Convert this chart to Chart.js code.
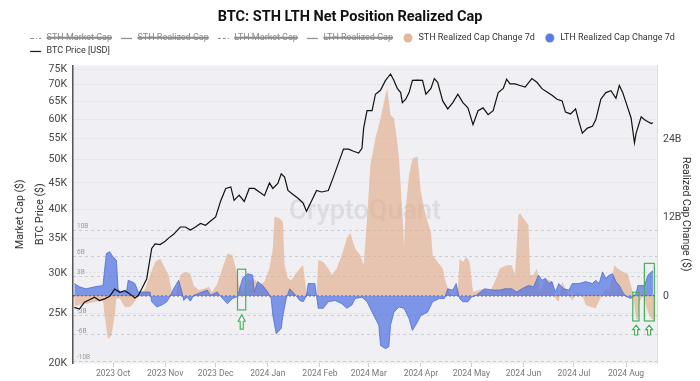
<!DOCTYPE html>
<html>
<head>
<meta charset="utf-8">
<title>BTC: STH LTH Net Position Realized Cap</title>
<script src="https://cdn.jsdelivr.net/npm/chart.js@4.4.1/dist/chart.umd.min.js"></script>
<style>
  html, body { margin: 0; padding: 0; background: #ffffff; }
  #wrap { width: 700px; height: 381px; }
</style>
</head>
<body>
<div id="wrap"><canvas id="NetPosition"></canvas></div>
<script>
(function () {
  "use strict";

  // x axis: days counted from 2023-10-01, ticks on month starts
  const monthTicks  = [0, 31, 61, 92, 123, 152, 183, 213, 244, 274, 305];
  const monthLabels = ['2023 Oct', '2023 Nov', '2023 Dec', '2024 Jan', '2024 Feb', '2024 Mar',
                       '2024 Apr', '2024 May', '2024 Jun', '2024 Jul', '2024 Aug'];

  // left axis ticks (USD) and right axis ticks / inner guides (billions)
  const priceTicks = [20000, 25000, 30000, 35000, 40000, 45000, 50000, 55000, 60000, 65000, 70000, 75000];
  const capTicks   = [0, 12, 24];
  const capGuides  = [-10, -6, -3, 0, 3, 6, 10];

  // BTC Price [USD], thousands
  const priceDays = [
    -23, -20, -17, -14, -11, -8, -5, -2, 1, 4,
    7, 10, 13, 15, 17, 20, 23, 25, 28, 31,
    33, 36, 40, 43, 46, 49, 52, 55, 58, 61,
    64, 67, 70, 72, 75, 78, 81, 84, 87, 90,
    93, 95, 98, 100, 102, 104, 107, 110, 113, 115,
    118, 121, 124, 128, 131, 134, 137, 140, 143, 146,
    148, 149, 151, 154, 156, 159, 162, 165, 167, 169,
    171, 172, 174, 176, 178, 181, 184, 186, 189, 191,
    193, 196, 199, 202, 205, 208, 211, 214, 217, 220,
    223, 226, 229, 232, 234, 236, 239, 242, 245, 249,
    252, 255, 258, 261, 264, 267, 269, 272, 275, 277,
    279, 282, 285, 287, 290, 293, 296, 299, 301, 303,
    305, 308, 310, 311, 314, 316, 318, 320, 321
  ];
  const priceValues = [
    25.7, 25.5, 26.3, 26.6, 26.9, 26.5, 26.7, 27.0, 27.9, 27.5,
    27.7, 27.3, 26.8, 27.1, 27.9, 29.2, 33.5, 34.2, 34.1, 34.6,
    35.1, 35.7, 36.9, 36.9, 36.4, 36.9, 37.5, 37.2, 37.9, 38.6,
    41.5, 43.9, 44.2, 41.6, 42.6, 41.4, 43.9, 43.9, 43.2, 42.5,
    45.0, 43.9, 44.9, 46.9, 46.2, 43.5, 42.7, 42.0, 41.1, 39.6,
    41.5, 43.5, 43.2, 43.5, 46.2, 49.2, 52.4, 52.4, 51.9, 51.5,
    52.6, 57.6, 62.3, 62.3, 67.1, 68.3, 71.4, 73.5, 71.4, 68.9,
    67.6, 64.6, 65.6, 67.6, 71.4, 71.5, 71.4, 67.1, 68.9, 72.0,
    70.8, 65.1, 62.8, 64.6, 67.1, 64.6, 63.1, 58.5, 62.3, 63.1,
    61.2, 62.3, 67.6, 68.9, 71.8, 70.3, 70.3, 69.8, 69.3, 72.0,
    70.8, 68.8, 67.8, 66.8, 65.6, 65.1, 61.9, 61.4, 62.8, 59.3,
    56.3, 57.6, 58.1, 59.8, 65.6, 67.6, 68.2, 65.9, 69.8, 67.6,
    64.6, 60.3, 53.9, 56.3, 60.6, 59.8, 59.3, 58.8, 59.0
  ];

  // STH Realized Cap Change 7d, billions USD
  const sthDays = [
    -23, -16, -6, -5, -3, -1, 1, 2, 4, 7, 10, 12, 14, 16, 19, 22, 25, 28, 31, 33,
    35, 37, 40, 43, 46, 48, 51, 54, 57, 59, 62, 65, 68, 71, 73, 75, 77, 80, 84, 87,
    90, 93, 95, 96, 99, 101, 102, 104, 106, 108, 111, 113, 114, 115, 118, 121, 122, 125, 128, 130,
    133, 136, 139, 141, 144, 147, 149, 151, 153, 156, 159, 162, 163, 165, 167, 169, 170, 172, 173, 174,
    176, 178, 181, 183, 185, 187, 189, 190, 193, 196, 198, 200, 203, 205, 206, 208, 210, 212, 214, 220,
    224, 227, 230, 234, 237, 239, 241, 242, 244, 247, 248, 250, 252, 254, 257, 261, 263, 265, 267, 270,
    273, 276, 279, 281, 284, 287, 290, 293, 295, 298, 300, 303, 306, 309, 311, 312, 313, 315, 316, 318,
    320, 322
  ];
  const sthValues = [
    -1.5, -1.2, -0.7, -3.0, -6.6, -6.1, -3.0, -0.4, -0.4, -1.7, -1.7, -1.2, -0.4, 0.0, 1.1, 3.2, 5.2, 5.7, 4.2, 3.2,
    0.6, 0.1, 3.2, 3.7, 3.4, 1.6, 0.9, 1.1, 1.4, 0.6, 1.9, 4.2, 6.5, 6.3, 4.2, 1.6, 0.6, 2.4, 2.6, 1.6,
    2.2, 4.2, 7.3, 12.2, 11.9, 11.4, 4.7, 2.7, 2.4, 3.2, 4.2, 4.7, 2.6, 0.6, 0.1, 0.0, 5.5, 5.2, 4.2, 3.2,
    4.2, 6.3, 8.8, 9.7, 7.3, 6.3, 4.7, 11.9, 20.1, 24.2, 27.3, 30.9, 31.9, 27.8, 27.3, 23.7, 21.1, 12.9, 7.8, 13.4,
    18.6, 21.1, 21.4, 16.0, 13.4, 11.4, 9.8, 6.3, 5.2, 4.2, 1.9, 0.6, 0.1, 1.1, 5.7, 5.2, 6.0, 5.2, 0.6, 1.1,
    0.6, 2.2, 4.2, 4.7, 4.7, 3.2, 12.4, 12.7, 11.9, 10.9, 3.2, 3.2, 4.2, 0.6, 2.7, 2.2, -0.4, -0.9, 2.2, 0.6,
    -0.7, 0.6, 0.1, -1.4, -1.7, -1.9, -0.2, 1.1, 0.6, 4.7, 4.2, 3.7, 3.4, 0.6, -3.5, -3.7, -0.9, 0.1, -0.7, -2.5,
    -3.5, -3.7
  ];

  // LTH Realized Cap Change 7d, billions USD
  const lthDays = [
    -23, -20, -16, -11, -6, -4, -2, 0, 2, 3, 4, 8, 9, 11, 13, 15, 22, 23, 26, 29,
    32, 34, 36, 39, 41, 42, 44, 46, 48, 53, 56, 58, 62, 64, 68, 71, 74, 77, 80, 83,
    84, 86, 89, 92, 94, 95, 97, 100, 101, 103, 105, 108, 111, 113, 115, 116, 120, 121, 122, 125,
    128, 132, 136, 139, 142, 144, 148, 151, 155, 158, 159, 162, 164, 165, 167, 170, 173, 176, 178, 181,
    183, 187, 190, 194, 197, 199, 202, 204, 206, 208, 211, 213, 216, 221, 226, 230, 233, 237, 240, 243,
    247, 250, 253, 255, 257, 259, 261, 263, 265, 268, 271, 273, 277, 281, 285, 287, 289, 291, 293, 295,
    297, 299, 301, 303, 305, 308, 311, 312, 316, 318, 321
  ];
  const lthValues = [
    1.9, 1.4, 1.1, 1.4, 1.6, 6.5, 6.8, 6.0, 5.5, 1.1, 0.6, 0.6, 2.4, 2.2, 1.9, 0.6, 0.6, -0.9, -1.7, -1.4,
    -0.9, 0.0, 1.1, 2.4, 0.6, -0.7, -0.2, -0.8, 0.1, 0.6, 0.9, 0.1, 0.6, -0.1, -1.2, -0.4, -0.1, 2.7, 3.4, 3.2,
    0.6, 2.2, 1.6, 0.6, -0.4, -3.0, -5.8, -5.0, -3.0, -0.4, 1.1, 0.3, -0.7, -0.9, 0.0, 1.9, 1.9, 0.0, -1.9, -1.9,
    -0.9, -0.7, -1.2, -1.9, -1.4, -0.4, -0.2, -0.9, -3.0, -4.5, -7.6, -8.1, -7.8, -4.5, -2.5, -1.7, -1.9, -3.5, -5.3, -4.0,
    -3.0, -2.5, -0.9, -0.4, -0.4, 1.1, 0.9, 1.9, -0.4, -0.9, -0.9, -0.2, 0.1, 1.1, 0.9, 0.9, 1.1, 1.1, 0.6, 1.1,
    1.6, 1.4, 3.2, 2.4, 2.7, 1.9, 2.2, 0.6, 1.9, 1.1, 0.9, 1.9, 1.9, 2.2, 1.9, 2.4, 1.9, 3.7, 2.7, 3.2,
    3.4, 2.2, 1.6, 0.6, -0.1, -0.4, 0.4, 1.6, 1.6, 3.2, 3.9
  ];

  // Colors
  const text_dark    = '#333333';
  const text_gray    = '#8a8a8a';
  const plot_bg      = '#f0f0f4';
  const sth_fill     = 'rgba(226,170,132,0.62)';
  const lth_fill     = 'rgba(84,118,226,0.74)';
  const lth_edge     = 'rgba(66,98,206,0.85)';
  const price_line   = '#111111';
  const mark_green   = '#45b25a';

  // green call-outs, in axis units (days / billions)
  const markBoxes  = [
    { from: 74.0,  to: 78.9,  top: 4.1,  bottom: -2.15 },
    { from: 309.0, to: 312.7, top: 0.57, bottom: -3.85 },
    { from: 315.9, to: 321.8, top: 5.0,  bottom: -3.85 }
  ];
  const markArrows = [
    { day: 76.5,  tip: -2.9, tail: -5.1 },
    { day: 311.0, tip: -4.5, tail: -6.0 },
    { day: 318.7, tip: -4.5, tail: -6.0 }
  ];

  const capMin = -10.3;
  const capMax = 35.4;

  const toPoints = function (days, values, scale) {
    return days.map(function (d, i) { return { x: d, y: values[i] * scale }; });
  };

  // legend icons: small gap on the left, symbol on the right
  const iconWidth = 17;
  function makeIcon(kind, color, dash) {
    const c = document.createElement('canvas');
    c.width = iconWidth; c.height = 10;
    const g = c.getContext('2d');
    if (kind === 'dot') {
      g.fillStyle = color;
      g.beginPath();
      g.arc(iconWidth - 6, 5, 4.5, 0, Math.PI * 2);
      g.fill();
    } else {
      g.strokeStyle = color;
      g.lineWidth = 1.2;
      g.setLineDash(dash || []);
      g.beginPath();
      g.moveTo(5, 5.5);
      g.lineTo(iconWidth - 1, 5.5);
      g.stroke();
    }
    return c;
  }
  const legendIcons = [
    makeIcon('line', '#8a8a8a', [4, 2, 1, 2]),
    makeIcon('line', '#8a8a8a'),
    makeIcon('line', '#8a8a8a', [3, 2]),
    makeIcon('line', '#8a8a8a'),
    makeIcon('dot', 'rgb(226,183,155)'),
    makeIcon('dot', 'rgb(92,124,224)'),
    makeIcon('line', price_line)
  ];

  Chart.defaults.font.family = "Roboto, 'Noto Sans', sans-serif";
  Chart.defaults.color = text_dark;

  // plot background + watermark
  const plotBackground = {
    id: 'plotBackground',
    beforeDraw(chart) {
      const a = chart.chartArea;
      const ctx = chart.ctx;
      ctx.save();
      ctx.fillStyle = plot_bg;
      ctx.fillRect(a.left, a.top, a.right - a.left, a.bottom - a.top);
      ctx.restore();
    },
    beforeDatasetsDraw(chart) {
      const a = chart.chartArea;
      const ctx = chart.ctx;
      ctx.save();
      ctx.font = '500 27px Roboto, sans-serif';
      ctx.fillStyle = 'rgba(120,120,132,0.16)';
      ctx.textAlign = 'center';
      ctx.textBaseline = 'middle';
      ctx.fillText('CryptoQuant', (a.left + a.right) / 2, (a.top + a.bottom) / 2 - 2);
      ctx.restore();
    }
  };

  // hand-drawn green boxes and hollow up arrows
  const callouts = {
    id: 'callouts',
    afterDatasetsDraw(chart) {
      const x = chart.scales.x;
      const y = chart.scales.y2;
      const ctx = chart.ctx;
      ctx.save();
      ctx.strokeStyle = mark_green;
      ctx.lineWidth = 1.2;
      markBoxes.forEach(function (b) {
        const x0 = x.getPixelForValue(b.from), x1 = x.getPixelForValue(b.to);
        const y0 = y.getPixelForValue(b.top),  y1 = y.getPixelForValue(b.bottom);
        ctx.strokeRect(x0, y0, x1 - x0, y1 - y0);
      });
      markArrows.forEach(function (m) {
        const cx = x.getPixelForValue(m.day);
        const t = y.getPixelForValue(m.tip);
        const e = y.getPixelForValue(m.tail);
        const h = (e - t) * 0.45;
        ctx.beginPath();
        ctx.moveTo(cx, t);
        ctx.lineTo(cx + 3.5, t + h);
        ctx.lineTo(cx + 1.5, t + h);
        ctx.lineTo(cx + 1.5, e);
        ctx.lineTo(cx - 1.5, e);
        ctx.lineTo(cx - 1.5, t + h);
        ctx.lineTo(cx - 3.5, t + h);
        ctx.closePath();
        ctx.fillStyle = '#ffffff';
        ctx.fill();
        ctx.stroke();
      });
      ctx.restore();
    }
  };

  // second legend row starts under the first one; fixed legend height
  const legendRows = {
    id: 'legendRows',
    afterInit(chart) {
      const legend = chart.legend;
      const fit = legend.fit.bind(legend);
      legend.fit = function () {
        fit();
        if (this.lineWidths) {
          for (let i = 1; i < this.lineWidths.length; i++) {
            this.lineWidths[i] = this.lineWidths[0];
          }
        }
        this.height = 36;
      };
    }
  };

  const lineDefaults = { pointRadius: 0, pointHoverRadius: 0, tension: 0 };

  const chart_el = document.getElementById('NetPosition');
  if (chart_el != null) {
    const ctx = chart_el.getContext('2d');
    const NetChart = new Chart(ctx, {
      type: 'line',
      data: {
        datasets: [
          Object.assign({ label: 'STH Market Cap', data: [], hidden: true, yAxisID: 'yMcap',
            borderColor: '#8a8a8a', borderDash: [4, 2, 1, 2], borderWidth: 1 }, lineDefaults),
          Object.assign({ label: 'STH Realized Cap', data: [], hidden: true, yAxisID: 'yMcap',
            borderColor: '#8a8a8a', borderWidth: 1 }, lineDefaults),
          Object.assign({ label: 'LTH Market Cap', data: [], hidden: true, yAxisID: 'yMcap',
            borderColor: '#8a8a8a', borderDash: [3, 2], borderWidth: 1 }, lineDefaults),
          Object.assign({ label: 'LTH Realized Cap', data: [], hidden: true, yAxisID: 'yMcap',
            borderColor: '#8a8a8a', borderWidth: 1 }, lineDefaults),
          Object.assign({ label: 'STH Realized Cap Change 7d', data: toPoints(sthDays, sthValues, 1),
            yAxisID: 'y2', fill: 'origin', backgroundColor: sth_fill, borderColor: sth_fill,
            borderWidth: 0, order: 3 }, lineDefaults),
          Object.assign({ label: 'LTH Realized Cap Change 7d', data: toPoints(lthDays, lthValues, 1),
            yAxisID: 'y2', fill: 'origin', backgroundColor: lth_fill, borderColor: lth_edge,
            borderWidth: 0.8, order: 2 }, lineDefaults),
          Object.assign({ label: 'BTC Price [USD]', data: toPoints(priceDays, priceValues, 1000),
            yAxisID: 'y', fill: false, borderColor: price_line, borderWidth: 1.2, order: 1 }, lineDefaults)
        ]
      },
      options: {
        responsive: true,
        maintainAspectRatio: false,
        animation: false,
        layout: { padding: 0 },
        plugins: {
          title: {
            display: true,
            text: 'BTC: STH LTH Net Position Realized Cap',
            color: '#111',
            font: { size: 14.5, weight: 'bold' },
            padding: { top: 9, bottom: 3 }
          },
          legend: {
            display: true,
            position: 'top',
            align: 'center',
            labels: {
              usePointStyle: true,
              pointStyleWidth: iconWidth,
              boxHeight: 9,
              padding: 4,
              font: { size: 9 },
              sort: function (a, b) { return a.datasetIndex - b.datasetIndex; },
              generateLabels(chart) {
                const items = Chart.defaults.plugins.legend.labels.generateLabels(chart);
                items.forEach(function (item) {
                  item.pointStyle = legendIcons[item.datasetIndex];
                  item.fontColor = item.hidden ? text_gray : text_dark;
                  item.lineWidth = 1;
                });
                return items;
              }
            }
          },
          tooltip: { enabled: false }
        },
        scales: {
          x: {
            type: 'linear',
            min: -23.8,
            max: 323.4,
            afterFit(scale) { scale.height = 18; },
            afterBuildTicks(scale) { scale.ticks = monthTicks.map(function (v) { return { value: v }; }); },
            ticks: {
              autoSkip: false,
              maxRotation: 0,
              padding: 2,
              color: '#777',
              font: { size: 8.5 },
              callback: function (value, index) { return monthLabels[index]; }
            },
            grid: { drawOnChartArea: false, tickLength: 4, color: '#cfcfcf' },
            border: { display: false }
          },
          yMcap: {
            type: 'linear',
            position: 'left',
            weight: 3,
            display: true,
            afterFit(scale) { scale.width = 30; },
            ticks: { display: false },
            grid: { display: false },
            border: { display: false },
            title: { display: true, text: 'Market Cap ($)', color: text_dark, font: { size: 10.5 }, padding: { top: 14, bottom: 0 } }
          },
          y: {
            type: 'logarithmic',
            position: 'left',
            weight: 2,
            min: 20000,
            max: 76400,
            afterFit(scale) { scale.width = 43; },
            afterBuildTicks(scale) { scale.ticks = priceTicks.map(function (v) { return { value: v }; }); },
            ticks: {
              padding: 6,
              color: '#444',
              font: { size: 10.5 },
              callback: function (value) { return (value / 1000) + 'K'; }
            },
            grid: { drawTicks: false, color: 'rgba(0,0,0,0.07)' },
            border: { display: true, color: '#555', width: 1.5, dash: [2, 2] },
            title: { display: true, text: 'BTC Price ($)', color: text_dark, font: { size: 10.5 }, padding: { top: 4, bottom: 0 } }
          },
          yGuide: {
            type: 'linear',
            position: 'left',
            weight: 1,
            min: capMin,
            max: capMax,
            afterFit(scale) { scale.width = 0; },
            afterBuildTicks(scale) { scale.ticks = capGuides.map(function (v) { return { value: v }; }); },
            ticks: {
              mirror: true,
              padding: 4,
              labelOffset: -4,
              color: '#9a9a9a',
              font: { size: 6.5 },
              callback: function (value) { return value === 0 ? '' : value + 'B'; }
            },
            grid: {
              drawTicks: false,
              color: function (c) { return c.tick && c.tick.value === 0 ? '#555' : '#c9c9ce'; },
              lineWidth: function (c) { return c.tick && c.tick.value === 0 ? 1.4 : 0.9; }
            },
            border: {
              display: false,
              dash: function (c) { return c.tick && c.tick.value === 0 ? [2, 2] : [3, 3]; }
            }
          },
          y2: {
            type: 'linear',
            position: 'right',
            min: capMin,
            max: capMax,
            afterFit(scale) { scale.width = 43; },
            afterBuildTicks(scale) { scale.ticks = capTicks.map(function (v) { return { value: v }; }); },
            ticks: {
              padding: 6,
              color: '#444',
              font: { size: 10.5 },
              callback: function (value) { return value === 0 ? '0' : value + 'B'; }
            },
            grid: { drawOnChartArea: false, drawTicks: false },
            border: { display: true, color: '#dcdce0', width: 1 },
            title: { display: true, text: 'Realized Cap Change ($)', color: text_dark, font: { size: 10.5 }, padding: { top: 8, bottom: 0 } }
          }
        }
      },
      plugins: [plotBackground, callouts, legendRows]
    });
  }

})();
</script>
</body>
</html>
